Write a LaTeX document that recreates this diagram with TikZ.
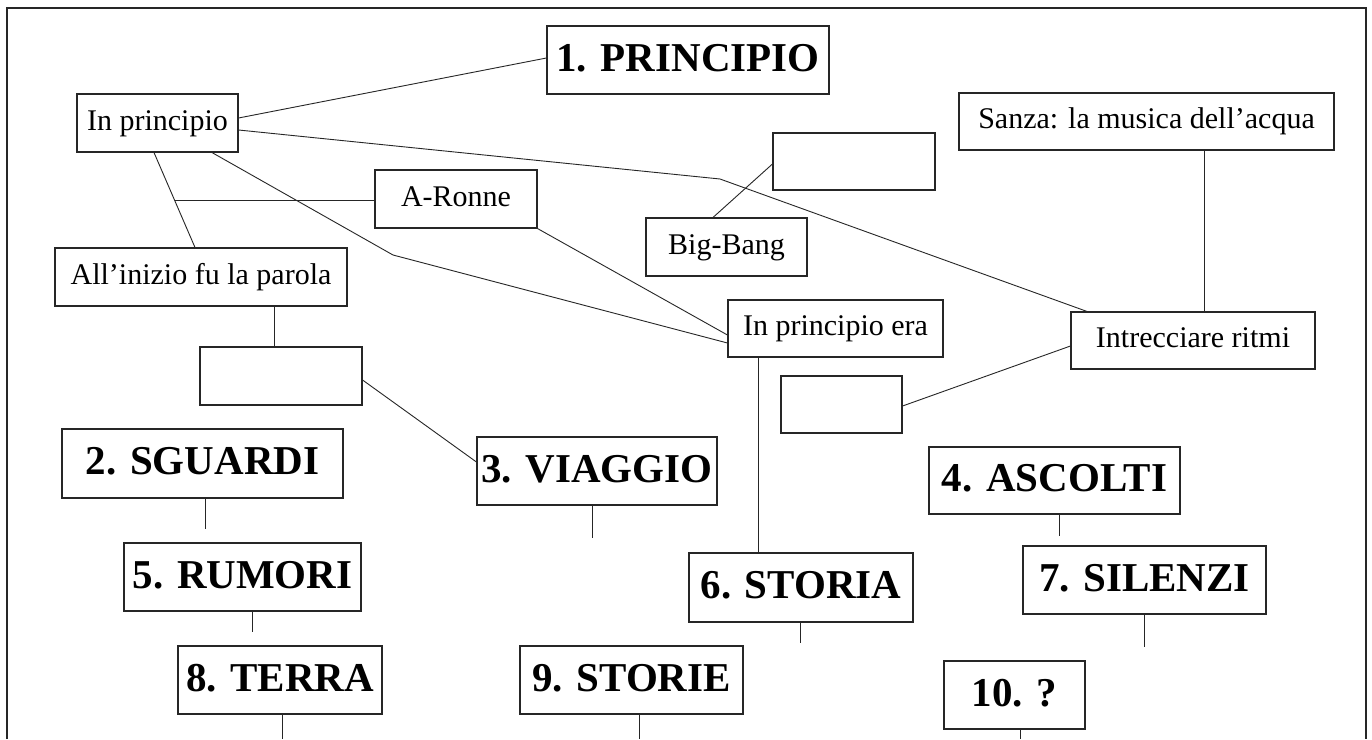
\documentclass[tikz,border=0pt]{standalone}
\usepackage{fontspec}
\setmainfont{Liberation Serif}
\usetikzlibrary{calc}
\newcommand\boxnode[7]{\node[#2,minimum width={(#5-#3)*1pt},minimum height={(#6-#4)*1pt}] (#1) at ({(#3+#5)/2},{(#4+#6)/2}) {#7};}
\begin{document}
\begin{tikzpicture}[x=1pt,y=-1pt,
  box/.style={draw=black!85,line width=1.1pt,inner sep=0pt,anchor=center,font=\fontsize{30}{36}\selectfont,text height=20pt,text depth=6pt},
  title/.style={draw=black!85,line width=1.1pt,inner sep=0pt,anchor=center,font=\fontsize{41}{48}\selectfont\bfseries,text height=30pt,text depth=8pt},
  link/.style={draw=black!85,line width=0.9pt},
  frame/.style={draw=black!85,line width=1.1pt}]
\fill[white] (0,0) rectangle (1372,739);
\useasboundingbox (0,0) rectangle (1372,739);
\draw[frame] (7,739) -- (7,8) -- (1366,8) -- (1366,739);

\boxnode{inpr}{box}{77}{94}{238}{152}{In principio}
\boxnode{p1}{title}{547}{26}{829}{94}{1. PRINCIPIO}
\boxnode{aronne}{box}{375}{170}{537}{228}{A-Ronne}
\boxnode{allinizio}{box}{55}{248}{347}{306}{All’inizio fu la parola}
\boxnode{e1}{box}{773}{133}{935}{190}{}
\boxnode{bigbang}{box}{646}{218}{807}{276}{Big-Bang}
\boxnode{sanza}{box}{959}{93}{1334}{150}{Sanza: la musica dell’acqua}
\boxnode{ipera}{box}{728}{300}{943}{357}{In principio era}
\boxnode{intr}{box}{1071}{312}{1315}{369}{Intrecciare ritmi}
\boxnode{e2}{box}{200}{347}{362}{405}{}
\boxnode{e3}{box}{781}{376}{902}{433}{}
\boxnode{sguardi}{title}{62}{429}{343}{498}{2. SGUARDI}
\boxnode{viaggio}{title}{477}{437}{717}{505}{3. VIAGGIO}
\boxnode{ascolti}{title}{929}{447}{1180}{514}{4. ASCOLTI}
\boxnode{rumori}{title}{124}{543}{361}{611}{5. RUMORI}
\boxnode{storia}{title}{689}{553}{913}{622}{6. STORIA}
\boxnode{silenzi}{title}{1023}{546}{1266}{614}{7. SILENZI}
\boxnode{terra}{title}{178}{646}{382}{714}{8. TERRA}
\boxnode{storie}{title}{520}{646}{743}{714}{9. STORIE}
\boxnode{q10}{title}{944}{661}{1085}{729}{10. ?}

\draw[link] (inpr.east |- 0,118) -- (p1.west |- 0,58);
\draw[link] (inpr.east |- 0,130) -- (720,179) -- (intr.north -| 1087,0);
\draw[link] (inpr.south -| 212,0) -- (393,255) -- (ipera.west |- 0,343);
\draw[link] (inpr.south -| 154,0) -- (allinizio.north -| 195,0);
\coordinate (j) at ($(inpr.south -| 154,0)!0.5!(allinizio.north -| 195,0)$);
\draw[link] (j) -- (aronne.west |- j);
\draw[link] (aronne.south east) -- (ipera.west |- 0,335);
\draw[link] (bigbang.north -| 713,0) -- (e1.west |- 0,164);
\draw[link] (sanza.south -| 1204,0) -- (intr.north -| 1204,0);
\draw[link] (allinizio.south -| 274,0) -- (e2.north -| 274,0);
\draw[link] (e2.east |- 0,380) -- (viaggio.west |- 0,462);
\draw[link] (intr.west |- 0,346) -- (e3.east |- 0,406);
\draw[link] (ipera.south -| 758,0) -- (storia.north -| 758,0);

\coordinate (s1) at (205,529);
\coordinate (s2) at (252,632);
\coordinate (s3) at (282,739);
\coordinate (s4) at (592,538);
\coordinate (s5) at (800,643);
\coordinate (s6) at (639,739);
\coordinate (s7) at (1059,536);
\coordinate (s8) at (1144,647);
\coordinate (s9) at (1020,739);
\draw[link] (sguardi.south -| s1) -- (s1);
\draw[link] (rumori.south -| s2) -- (s2);
\draw[link] (terra.south -| s3) -- (s3);
\draw[link] (viaggio.south -| s4) -- (s4);
\draw[link] (storia.south -| s5) -- (s5);
\draw[link] (storie.south -| s6) -- (s6);
\draw[link] (ascolti.south -| s7) -- (s7);
\draw[link] (silenzi.south -| s8) -- (s8);
\draw[link] (q10.south -| s9) -- (s9);
\end{tikzpicture}
\end{document}
